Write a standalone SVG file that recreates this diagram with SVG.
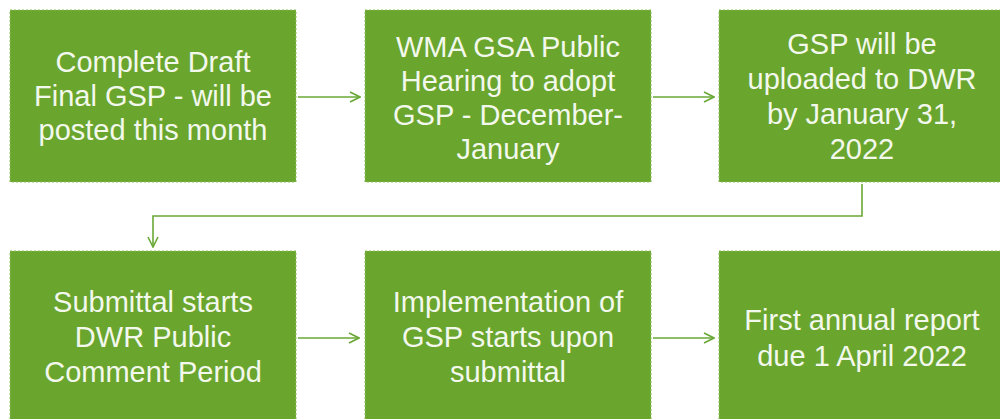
<svg xmlns="http://www.w3.org/2000/svg" width="1000" height="419" viewBox="0 0 1000 419">
  <style>
    .box { fill: #6aa52e; stroke: #8cc05a; stroke-width: 1; stroke-dasharray: 2 2; }
    .lbl { font-family: "Liberation Sans", Arial, sans-serif; font-size: 29px; fill: #f3f8ec; text-anchor: middle; }
    .wire { fill: none; stroke: #6aa836; stroke-width: 1.6; }
  </style>
  <defs>
    <marker id="arrow" viewBox="0 0 12 12" refX="11" refY="6" markerWidth="12" markerHeight="12" markerUnits="userSpaceOnUse" orient="auto">
      <path d="M1 1 L11 6 L1 11" fill="none" stroke="#6aa836" stroke-width="1.6"/>
    </marker>
  </defs>
  <rect width="1000" height="419" fill="#ffffff"/>

  <g id="step1">
    <rect class="box" x="10" y="10" width="286" height="172"/>
    <text class="lbl" x="153" y="72">Complete Draft</text>
    <text class="lbl" x="153" y="106">Final GSP - will be</text>
    <text class="lbl" x="153" y="140">posted this month</text>
  </g>

  <g id="step2">
    <rect class="box" x="365" y="10" width="286" height="172"/>
    <text class="lbl" x="508" y="57">WMA GSA Public</text>
    <text class="lbl" x="508" y="91">Hearing to adopt</text>
    <text class="lbl" x="508" y="125">GSP - December-</text>
    <text class="lbl" x="508" y="159">January</text>
  </g>

  <g id="step3">
    <rect class="box" x="719" y="10" width="286" height="172"/>
    <text class="lbl" x="862" y="54">GSP will be</text>
    <text class="lbl" x="862" y="89">uploaded to DWR</text>
    <text class="lbl" x="862" y="124">by January 31,</text>
    <text class="lbl" x="862" y="159">2022</text>
  </g>

  <g id="step4">
    <rect class="box" x="10" y="251" width="286" height="180"/>
    <text class="lbl" x="153" y="312">Submittal starts</text>
    <text class="lbl" x="153" y="347">DWR Public</text>
    <text class="lbl" x="153" y="382">Comment Period</text>
  </g>

  <g id="step5">
    <rect class="box" x="365" y="251" width="286" height="180"/>
    <text class="lbl" x="508" y="312">Implementation of</text>
    <text class="lbl" x="508" y="347">GSP starts upon</text>
    <text class="lbl" x="508" y="382">submittal</text>
  </g>

  <g id="step6">
    <rect class="box" x="719" y="251" width="286" height="180"/>
    <text class="lbl" x="862" y="330">First annual report</text>
    <text class="lbl" x="862" y="366">due 1 April 2022</text>
  </g>

  <g id="connectors">
    <path class="wire" d="M298 97 H360" marker-end="url(#arrow)"/>
    <path class="wire" d="M653 97 H714" marker-end="url(#arrow)"/>
    <path class="wire" d="M862 184 V216 H153 V247" marker-end="url(#arrow)"/>
    <path class="wire" d="M298 338 H359" marker-end="url(#arrow)"/>
    <path class="wire" d="M653 338 H714" marker-end="url(#arrow)"/>
  </g>
</svg>
